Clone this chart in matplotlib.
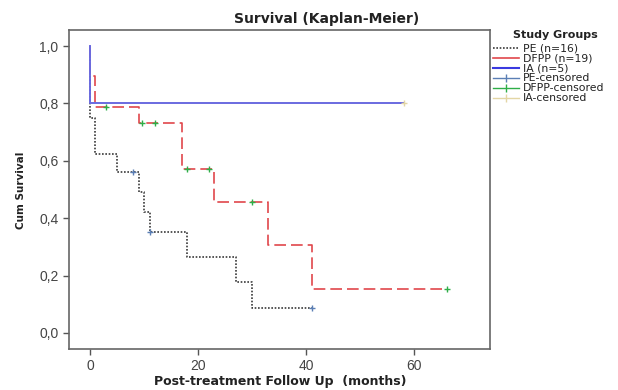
import matplotlib
matplotlib.use("Agg")
import matplotlib.pyplot as plt
from matplotlib.lines import Line2D
from matplotlib.ticker import FuncFormatter

plt.rcParams['font.family'] = ['Liberation Sans', 'DejaVu Sans']

# step curves (time in months, cumulative survival)
pe_t = [0, 0, 1, 5, 9, 10, 11, 18, 27, 30, 41]
pe_s = [1.0, 0.75, 0.625, 0.5625, 0.492, 0.422, 0.352, 0.264, 0.176, 0.088, 0.088]
pe_cens_t = [8, 11, 41]
pe_cens_s = [0.5625, 0.352, 0.088]

dfpp_t = [0, 0, 1, 9, 17, 23, 33, 41, 66]
dfpp_s = [1.0, 0.895, 0.789, 0.733, 0.571, 0.457, 0.305, 0.152, 0.152]
dfpp_cens_t = [3, 9.6, 12, 18, 22, 30, 66]
dfpp_cens_s = [0.789, 0.733, 0.733, 0.571, 0.571, 0.457, 0.152]

ia_t = [0, 0, 58]
ia_s = [1.0, 0.8, 0.8]
ia_cens_t = [58]
ia_cens_s = [0.8]

labels = ['PE (n=16)', 'DFPP (n=19)', 'IA (n=5)', 'PE-censored', 'DFPP-censored', 'IA-censored']

c_pe = '#3a3a3a'
c_dfpp = '#e0474c'
c_ia = '#6a6ae0'
c_pe_c = '#5b7fb5'
c_dfpp_c = '#2fae48'
c_ia_c = '#e3d6a4'

fig = plt.figure(figsize=(6.18, 3.9), dpi=100)
ax = fig.add_axes([69/618, 1 - 349/390, (490-69)/618, (349-30)/390])

ax.step(pe_t, pe_s, where='post', color=c_pe, lw=1.2, linestyle=(0, (1, 1)), zorder=2)
ax.step(dfpp_t, dfpp_s, where='post', color=c_dfpp, lw=1.2, linestyle=(0, (7, 3)), zorder=2)
ax.step(ia_t, ia_s, where='post', color=c_ia, lw=1.4, zorder=3)

ax.plot(pe_cens_t, pe_cens_s, '+', color=c_pe_c, ms=5, mew=1, zorder=4)
ax.plot(dfpp_cens_t, dfpp_cens_s, '+', color=c_dfpp_c, ms=5, mew=1, zorder=4)
ax.plot(ia_cens_t, ia_cens_s, '+', color=c_ia_c, ms=5, mew=1, zorder=4)

ax.set_xlim(-3.9, 74)
ax.set_ylim(-0.056, 1.056)
ax.set_xticks([0, 20, 40, 60])
ax.set_yticks([0.0, 0.2, 0.4, 0.6, 0.8, 1.0])
ax.yaxis.set_major_formatter(FuncFormatter(lambda v, p: f'{v:.1f}'.replace('.', ',')))
ax.tick_params(labelsize=10, colors='#555555', labelcolor='#444444', length=4, width=1)
for s in ax.spines.values():
    s.set_color('#666666')
    s.set_linewidth(1.2)

bold = dict(family='DejaVu Sans', fontweight='bold', color='#222222')
fig.text(327/618, 1 - 19/390, 'Survival (Kaplan-Meier)', ha='center', va='center',
         fontsize=10, **bold)
fig.text(21/618, 1 - 190/390, 'Cum Survival', ha='center', va='center', rotation=90,
         fontsize=7.5, **bold)
fig.text(280/618, 1 - 381/390, 'Post-treatment Follow Up  (months)', ha='center', va='center',
         fontsize=9, **bold)
fig.text(555/618, 1 - 35/390, 'Study Groups', ha='center', va='center', fontsize=8, **bold)

handles = [
    Line2D([0], [0], color=c_pe, lw=1.2, linestyle=(0, (1, 1))),
    Line2D([0], [0], color=c_dfpp, lw=1.2),
    Line2D([0], [0], color='#3a3ae0', lw=1.5),
    Line2D([0], [0], color=c_pe_c, lw=1, marker='|', ms=6),
    Line2D([0], [0], color=c_dfpp_c, lw=1, marker='|', ms=6),
    Line2D([0], [0], color=c_ia_c, lw=1, marker='|', ms=6),
]
leg = fig.legend(handles, labels, loc='upper left', bbox_to_anchor=(488/618, 1 - 38/390),
                 frameon=False, prop={'family': 'DejaVu Sans', 'size': 7.8},
                 handlelength=2.4, handletextpad=0.3, labelspacing=0.0, borderpad=0)
for t in leg.get_texts():
    t.set_color('#222222')

fig.savefig('out.png', dpi=100)
